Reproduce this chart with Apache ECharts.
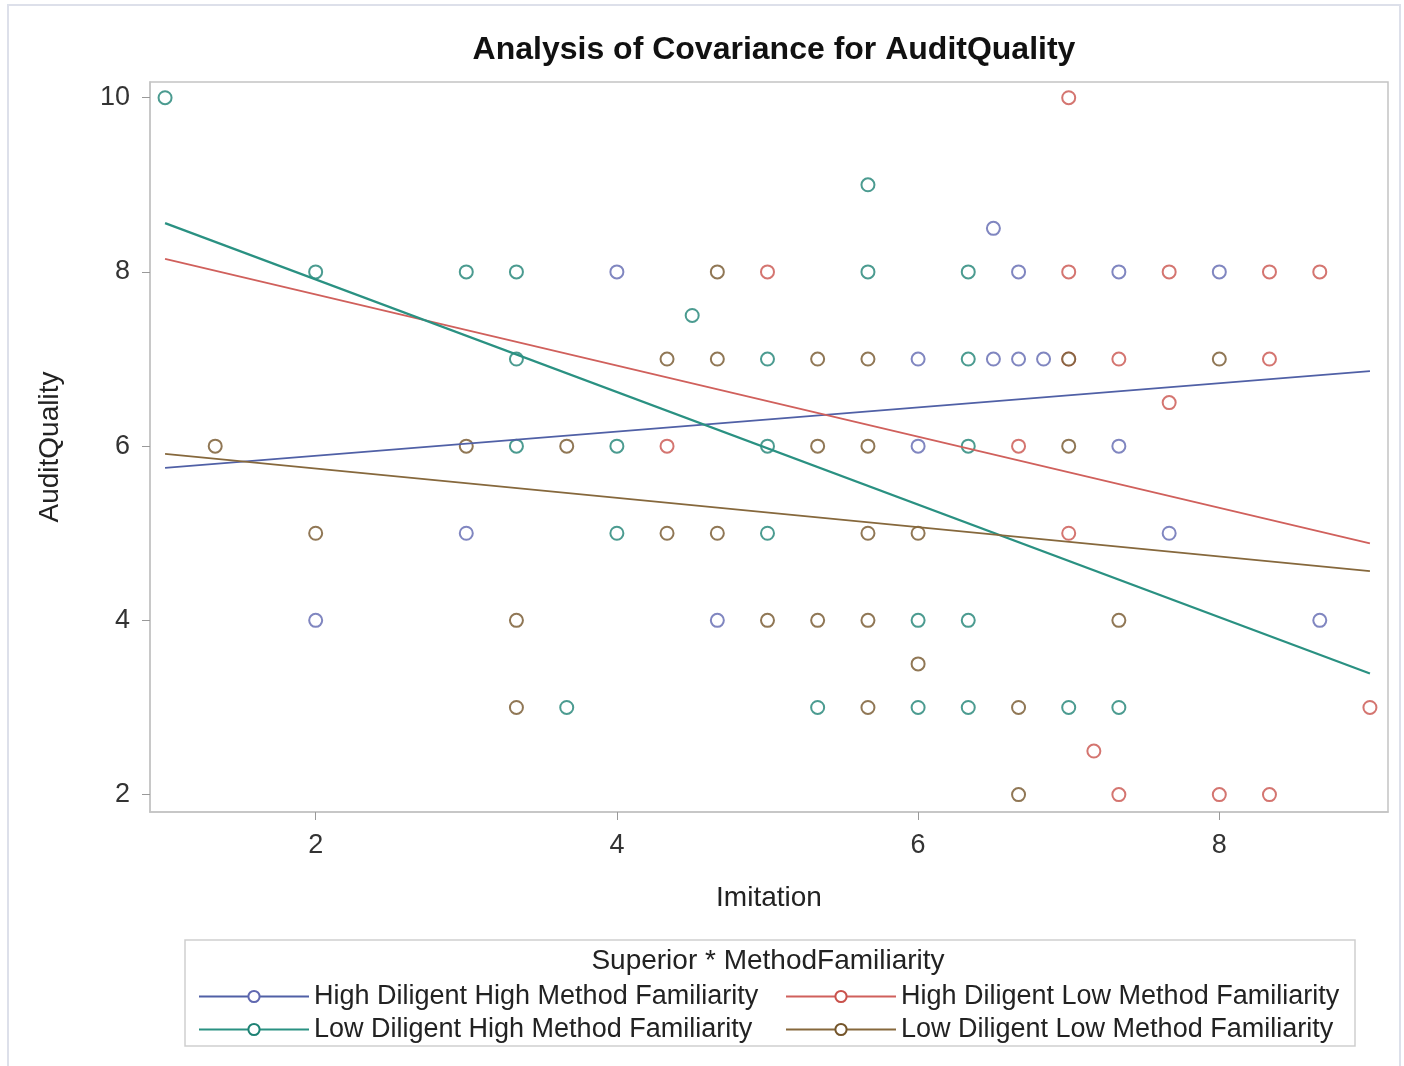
<!DOCTYPE html>
<html><head><meta charset="utf-8">
<script src="https://cdn.jsdelivr.net/npm/echarts@6/dist/echarts.min.js"></script>
<style>html,body{margin:0;padding:0;background:#fff}#c{width:1404px;height:1066px}</style>
</head><body><div id="c"></div>
<script>
const groupNames = [
  'High Diligent High Method Familiarity',
  'High Diligent Low Method Familiarity',
  'Low Diligent High Method Familiarity',
  'Low Diligent Low Method Familiarity'
];
const xTicks = [2, 4, 6, 8];
const yTicks = [2, 4, 6, 8, 10];

// High Diligent High Method Familiarity
const hhX = [6.5, 4, 6.667, 7.333, 8, 6, 6.5, 6.667, 6.833, 6, 7.333, 3, 7.667, 2, 4.667, 8.667];
const hhY = [8.5, 8, 8, 8, 8, 7, 7, 7, 7, 6, 6, 5, 5, 4, 4, 4];
// High Diligent Low Method Familiarity
const hlX = [7, 5, 7, 7.667, 8.333, 8.667, 7, 7.333, 8.333, 7.667, 4.333, 6.667, 7, 9, 7.167, 7.333, 8, 8.333];
const hlY = [10, 8, 8, 8, 8, 8, 7, 7, 7, 6.5, 6, 6, 5, 3, 2.5, 2, 2, 2];
// Low Diligent High Method Familiarity
const lhX = [1, 5.667, 2, 3, 3.333, 5.667, 6.333, 4.5, 3.333, 5, 6.333, 3.333, 4, 5, 6.333, 4, 5, 6, 6.333, 3.667, 5.333, 6, 6.333, 7, 7.333];
const lhY = [10, 9, 8, 8, 8, 8, 8, 7.5, 7, 7, 7, 6, 6, 6, 6, 5, 5, 4, 4, 3, 3, 3, 3, 3, 3];
// Low Diligent Low Method Familiarity
const llX = [4.667, 4.333, 4.667, 5.333, 5.667, 7, 8, 1.333, 3, 3.667, 5.333, 5.667, 7, 2, 4.333, 4.667, 5.667, 6, 3.333, 5, 5.333, 5.667, 7.333, 6, 3.333, 5.667, 6.667, 6.667];
const llY = [8, 7, 7, 7, 7, 7, 7, 6, 6, 6, 6, 6, 6, 5, 5, 5, 5, 5, 4, 4, 4, 4, 4, 3.5, 3, 3, 3, 2];

// fitted lines (endpoints)
const fitX = [1, 9];
const hhFitY = [5.75, 6.86];
const hlFitY = [8.15, 4.885];
const lhFitY = [8.56, 3.39];
const llFitY = [5.91, 4.565];

const markerColors = ['#6068B0', '#C9524C', '#1E8274', '#74552A'];
const lineColors = ['#5060A6', '#D0605C', '#2A9182', '#86683C'];

const pts = [[hhX, hhY], [hlX, hlY], [lhX, lhY], [llX, llY]];
const fits = [hhFitY, hlFitY, lhFitY, llFitY];
const zip = (a, b) => a.map((v, i) => [v, b[i]]);

const FONT = 'Liberation Sans, Arial, sans-serif';
const series = [];
groupNames.forEach((n, i) => {
  series.push({
    name: n, type: 'line', data: zip(fitX, fits[i]),
    symbol: 'emptyCircle', showSymbol: false, z: 3,
    lineStyle: {color: lineColors[i], width: i === 2 ? 2.2 : 1.8},
    itemStyle: {color: markerColors[i]},
    silent: true, animation: false
  });
});
groupNames.forEach((n, i) => {
  series.push({
    name: n, type: 'scatter', data: zip(pts[i][0], pts[i][1]),
    symbol: 'emptyCircle', symbolSize: 13, z: 2,
    itemStyle: {color: markerColors[i], borderColor: markerColors[i], borderWidth: 2.2},
    animation: false
  });
});

const chart = echarts.init(document.getElementById('c'));
chart.setOption({
  backgroundColor: '#fff',
  animation: false,
  title: {
    text: 'Analysis of Covariance for AuditQuality',
    left: 769, top: 29, textAlign: 'center',
    textStyle: {fontFamily: FONT, fontSize: 32, fontWeight: 'bold', color: '#111'}
  },
  grid: {left: 150, top: 82, right: 16, bottom: 254, show: true, borderColor: '#c4c4c4', borderWidth: 1.5},
  xAxis: {
    type: 'value', min: 0.9, max: 9.12,
    name: 'Imitation', nameLocation: 'middle', nameGap: 72,
    nameTextStyle: {fontFamily: FONT, fontSize: 28, color: '#222'},
    axisLine: {show: true, onZero: false, lineStyle: {color: '#c4c4c4', width: 1.5}},
    axisTick: {show: true, length: 8, customValues: xTicks, lineStyle: {color: '#999'}},
    axisLabel: {customValues: xTicks, fontFamily: FONT, fontSize: 27, color: '#333', margin: 20},
    splitLine: {show: false}
  },
  yAxis: {
    type: 'value', min: 1.8, max: 10.18,
    name: 'AuditQuality', nameLocation: 'middle', nameGap: 86, nameRotate: 90,
    nameTextStyle: {fontFamily: FONT, fontSize: 28, color: '#222'},
    axisLine: {show: true, onZero: false, lineStyle: {color: '#c4c4c4', width: 1.5}},
    axisTick: {show: true, length: 8, customValues: yTicks, lineStyle: {color: '#999'}},
    axisLabel: {customValues: yTicks, fontFamily: FONT, fontSize: 27, color: '#333', margin: 20},
    splitLine: {show: false}
  },
  legend: [
    {data: [groupNames[0], groupNames[2]], orient: 'vertical', left: 198, top: 983,
     itemWidth: 110, itemHeight: 14, itemGap: 6, padding: 0,
     textStyle: {fontFamily: FONT, fontSize: 27, color: '#222'}},
    {data: [groupNames[1], groupNames[3]], orient: 'vertical', left: 785, top: 983,
     itemWidth: 110, itemHeight: 14, itemGap: 6, padding: 0,
     textStyle: {fontFamily: FONT, fontSize: 27, color: '#222'}}
  ],
  graphic: [
    {type: 'rect', shape: {x: 8, y: 5, width: 1392, height: 1070}, style: {fill: 'none', stroke: '#dde0ea', lineWidth: 2}, silent: true},
    {type: 'rect', shape: {x: 185, y: 940, width: 1170, height: 106}, style: {fill: 'none', stroke: '#cfcfcf', lineWidth: 1.5}, silent: true},
    {type: 'text', style: {text: 'Superior * MethodFamiliarity', x: 768, y: 961, textAlign: 'center', textVerticalAlign: 'middle', fontFamily: FONT, fontSize: 28, fill: '#222'}, silent: true}
  ],
  series: series
});
</script>
</body></html>
